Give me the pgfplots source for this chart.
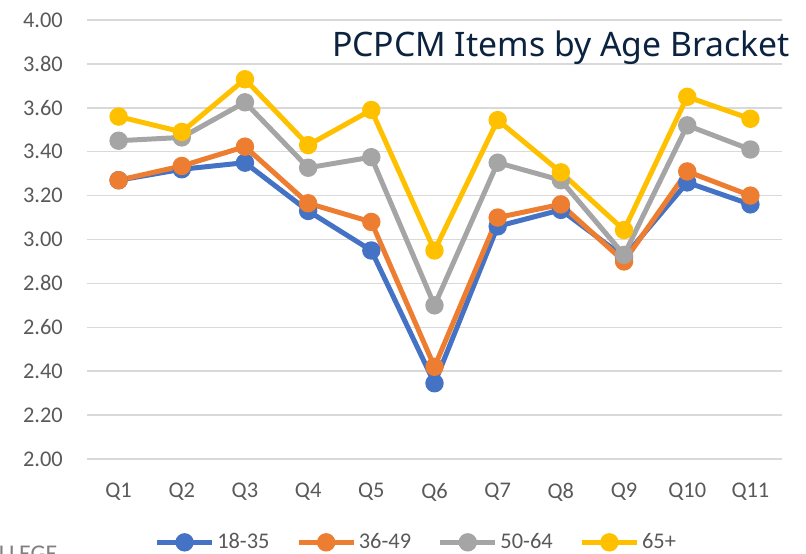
\documentclass[border=0pt]{standalone}
\usepackage{fontspec}
\setmainfont{Carlito}
\newfontfamily\titlefont{Noto Sans}
\usepackage{pgfplots}
\pgfplotsset{compat=1.18}
\definecolor{cblue}{HTML}{4472C4}
\definecolor{corange}{HTML}{ED7D31}
\definecolor{cgray}{HTML}{A5A5A5}
\definecolor{cgold}{HTML}{FFC000}
\definecolor{gridc}{HTML}{D9D9D9}
\definecolor{labc}{HTML}{595959}
\definecolor{titc}{HTML}{0C2340}
\pgfplotstableread{
x a b c d
1 3.27 3.27 3.45 3.56
2 3.32 3.335 3.465 3.49
3 3.35 3.423 3.625 3.73
4 3.13 3.165 3.327 3.43
5 2.95 3.08 3.375 3.59
6 2.345 2.42 2.70 2.95
7 3.06 3.10 3.35 3.544
8 3.135 3.16 3.27 3.306
9 2.92 2.90 2.93 3.043
10 3.26 3.31 3.52 3.65
11 3.16 3.20 3.41 3.55
}\datatable
\begin{document}
\begin{tikzpicture}
\begin{axis}[
  at={(65.25pt,70.5pt)}, anchor=south west,
  scale only axis, width=521.25pt, height=329.25pt,
  xmin=0.5, xmax=11.5, ymin=2, ymax=4,
  xtick={1,2,3,4,5,6,7,8,9,10,11},
  xticklabels={Q1,Q2,Q3,Q4,Q5,Q6,Q7,Q8,Q9,Q10,Q11},
  ytick={2,2.2,2.4,2.6,2.8,3,3.2,3.4,3.6,3.8,4},
  ymajorgrids, grid style={draw=gridc, line width=1.1pt},
  axis line style={draw=none}, major tick length=0pt,
  tick label style={font=\fontsize{16.8}{19}\selectfont, text=labc},
  yticklabel style={/pgf/number format/.cd, fixed, fixed zerofill, precision=2, assume math mode=true, /tikz/.cd, inner xsep=0pt, xshift=-18pt},
  xticklabel style={inner ysep=0pt, yshift=-18pt},
  legend columns=4,
  legend style={at={(0,0)}, anchor=west, xshift=50.5pt, yshift=-62.5pt, draw=none, fill=none, inner sep=0pt,
    font=\fontsize{16.8}{19}\selectfont, text=labc,
    /tikz/every even column/.append style={column sep=18pt},
    nodes={inner xsep=2pt}},
  legend image code/.code={\draw[mark repeat=2, mark phase=2] plot coordinates {(0pt,0pt)(20.6pt,0pt)(41.25pt,0pt)};},
  every axis plot/.append style={line width=3.75pt, mark=*, mark size=5pt},
]
\addplot[cblue, mark options={draw=none, fill=cblue}] table[x=x,y=a] {\datatable};
\addlegendentry{18-35}
\addplot[corange, mark options={draw=none, fill=corange}] table[x=x,y=b] {\datatable};
\addlegendentry{36-49}
\addplot[cgray, mark options={draw=none, fill=cgray}] table[x=x,y=c] {\datatable};
\addlegendentry{50-64}
\addplot[cgold, mark options={draw=none, fill=cgold}] table[x=x,y=d] {\datatable};
\addlegendentry{65+}
\end{axis}
\node[anchor=base east, inner sep=0pt, text=titc, font=\titlefont\fontsize{25.3}{30}\selectfont] at (592.5pt,372pt) {PCPCM Items by Age Bracket};
\node[anchor=north west, inner sep=0pt, text=gray, font=\fontsize{18}{20}\selectfont] at (-1pt,5.25pt) {LLEGE};
\pgfresetboundingbox
\path[use as bounding box] (0,0) rectangle (604.5pt,414.75pt);
\end{tikzpicture}
\end{document}
